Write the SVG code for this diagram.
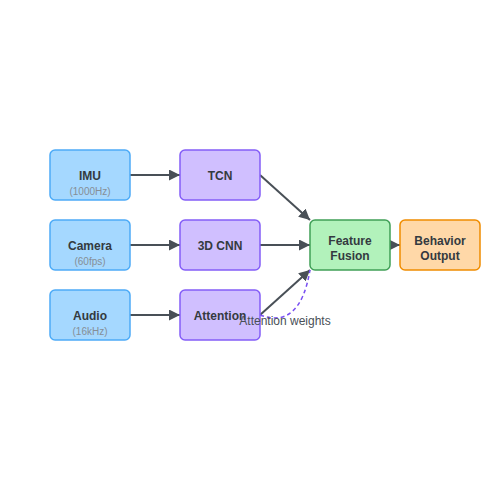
<svg xmlns="http://www.w3.org/2000/svg" width="500" height="500" viewBox="0 0 500 500">
<defs>
<marker id="arr" markerUnits="userSpaceOnUse" markerWidth="11" markerHeight="11" refX="10" refY="5" orient="auto" viewBox="0 0 10 10">
<path d="M0,0 L10,5 L0,10 z" fill="#495057"/>
</marker>
</defs>
<style>
.in{fill:#a5d8ff;stroke:#4dabf7;stroke-width:1.5}
.pr{fill:#d0bfff;stroke:#845ef7;stroke-width:1.5}
.fu{fill:#b2f2bb;stroke:#40a057;stroke-width:1.5}
.ou{fill:#ffd8a8;stroke:#f08c00;stroke-width:1.5}
.t{font-family:"Liberation Sans",Arial,sans-serif;font-size:12px;font-weight:bold;fill:#343a40;text-anchor:middle}
.s{font-family:"Liberation Sans",Arial,sans-serif;font-size:10px;fill:#868e96;text-anchor:middle}
.e{stroke:#495057;stroke-width:2;fill:none}
.lbl{font-family:"Liberation Sans",Arial,sans-serif;font-size:12px;fill:#495057;text-anchor:middle}
</style>
<rect width="500" height="500" fill="#ffffff"/>
<g id="connectors">
<line class="e" x1="130" y1="175" x2="180" y2="175" marker-end="url(#arr)"/>
<line class="e" x1="130" y1="245" x2="180" y2="245" marker-end="url(#arr)"/>
<line class="e" x1="130" y1="315" x2="180" y2="315" marker-end="url(#arr)"/>
<line class="e" x1="260" y1="175" x2="310" y2="220" marker-end="url(#arr)"/>
<line class="e" x1="260" y1="245" x2="310" y2="245" marker-end="url(#arr)"/>
<line class="e" x1="260" y1="315" x2="310" y2="270" marker-end="url(#arr)"/>
<line class="e" x1="390" y1="245" x2="400" y2="245" marker-end="url(#arr)"/>
<path d="M260,315 Q300,330 310,270" fill="none" stroke="#7950f2" stroke-width="1.5" stroke-dasharray="4,3"/>
</g>
<g id="imu"><rect class="in" x="50" y="150" width="80" height="50" rx="5"/><text class="t" x="90" y="180">IMU</text><text class="s" x="90" y="195">(1000Hz)</text></g>
<g id="camera"><rect class="in" x="50" y="220" width="80" height="50" rx="5"/><text class="t" x="90" y="250">Camera</text><text class="s" x="90" y="265">(60fps)</text></g>
<g id="audio"><rect class="in" x="50" y="290" width="80" height="50" rx="5"/><text class="t" x="90" y="320">Audio</text><text class="s" x="90" y="335">(16kHz)</text></g>
<g id="tcn"><rect class="pr" x="180" y="150" width="80" height="50" rx="5"/><text class="t" x="220" y="180">TCN</text></g>
<g id="cnn3d"><rect class="pr" x="180" y="220" width="80" height="50" rx="5"/><text class="t" x="220" y="250">3D CNN</text></g>
<g id="attention"><rect class="pr" x="180" y="290" width="80" height="50" rx="5"/><text class="t" x="220" y="320">Attention</text></g>
<g id="fusion"><rect class="fu" x="310" y="220" width="80" height="50" rx="5"/><text class="t" x="350" y="245">Feature</text><text class="t" x="350" y="260">Fusion</text></g>
<g id="output"><rect class="ou" x="400" y="220" width="80" height="50" rx="5"/><text class="t" x="440" y="245">Behavior</text><text class="t" x="440" y="260">Output</text></g>
<g id="edge-labels"><text class="lbl" x="285" y="325">Attention weights</text></g>
</svg>
